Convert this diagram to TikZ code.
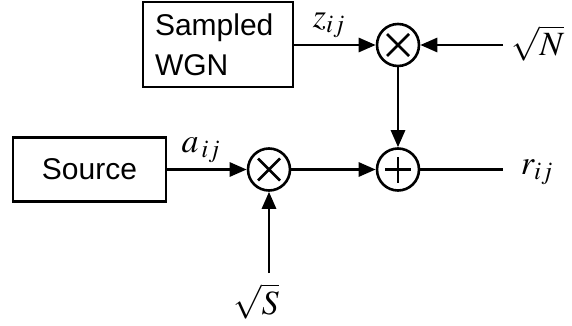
\documentclass[tikz,border=0pt]{standalone}
\usepackage{mathptmx}
\usepackage{fontspec}
\setmainfont{Liberation Sans}
\usetikzlibrary{arrows.meta}
\tikzset{
  blk/.style={draw, line width=2.8pt, inner sep=0pt, font=\fontsize{30}{40}\selectfont},
  op/.style={circle, draw, line width=2.6pt, minimum size=42pt, inner sep=0pt},
  sig/.style={line width=2.8pt, -{Triangle[length=17pt,width=14pt]}},
  lab/.style={inner sep=0pt, font=\fontsize{34}{36}\selectfont},
}
\begin{document}
\begin{tikzpicture}[x=1pt,y=-1pt]
\useasboundingbox (0,0) rectangle (572,326);
\node[blk, minimum width=150pt, minimum height=85pt, align=left, text width=126pt] (wgn) at (218,44.5) {Sampled\\WGN};
\node[blk, minimum width=153pt, minimum height=64pt] (src) at (89.5,169.5) {Source};
\node[op] (mul1) at (398,45) {};
\node[op] (add) at (398,169.5) {};
\node[op] (mul2) at (269,169.5) {};
\draw[line width=2.6pt] ([shift={(-11pt,-11pt)}]mul1.center) -- ([shift={(11pt,11pt)}]mul1.center)
  ([shift={(-11pt,11pt)}]mul1.center) -- ([shift={(11pt,-11pt)}]mul1.center);
\draw[line width=2.6pt] ([shift={(-11pt,-11pt)}]mul2.center) -- ([shift={(11pt,11pt)}]mul2.center)
  ([shift={(-11pt,11pt)}]mul2.center) -- ([shift={(11pt,-11pt)}]mul2.center);
\draw[line width=2.6pt] ([xshift=-13pt]add.center) -- ([xshift=13pt]add.center)
  ([yshift=-13pt]add.center) -- ([yshift=13pt]add.center);
\coordinate (nin) at (503,45);
\coordinate (sin) at (269,273);
\coordinate (rout) at (503,169.5);
\node[lab, anchor=west] (nlab) at (511,43) {$\sqrt{N}$};
\node[lab] (slab) at (256,301) {$\sqrt{S}$};
\node[lab] (rlab) at (537,172) {$r_{ij}$};
\node[lab] (zlab) at (329,25) {$z_{ij}$};
\node[lab] (alab) at (201,150) {$a_{\,ij}$};
\draw[sig] (wgn.east |- mul1) -- (mul1.west);
\draw[sig] (nin) -- (mul1.east);
\draw[sig] (mul1.south) -- (add.north);
\draw[sig] (src.east) -- (mul2.west);
\draw[sig] (mul2.east) -- (add.west);
\draw[line width=2.8pt] (add.east) -- (rout);
\draw[sig] (sin) -- (mul2.south);
\end{tikzpicture}
\end{document}
